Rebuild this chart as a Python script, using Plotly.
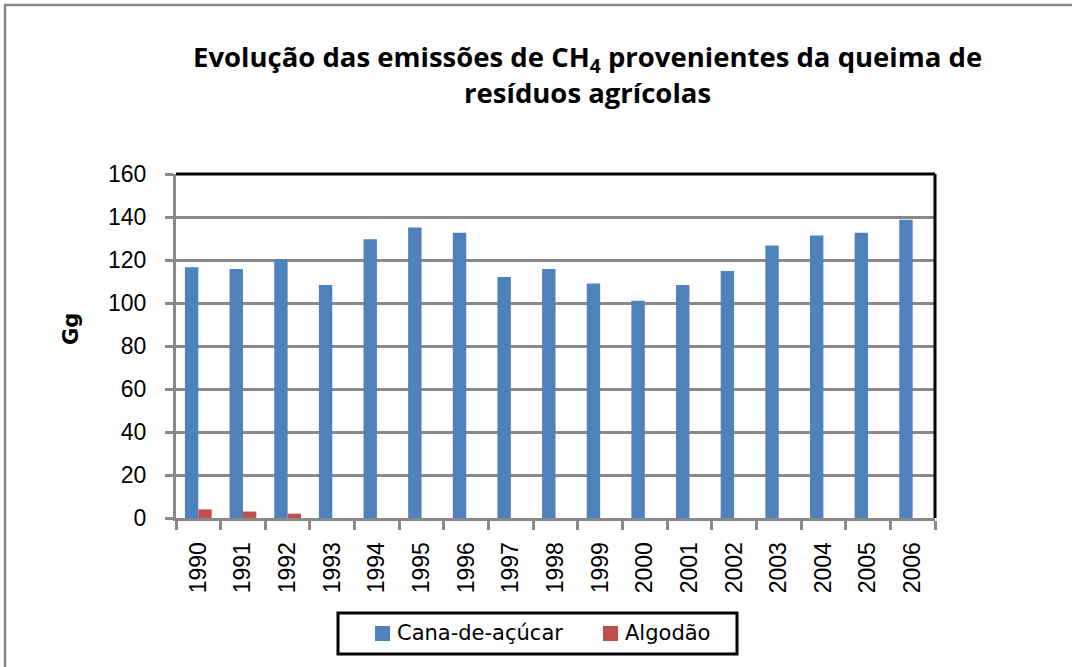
import plotly.graph_objects as go

years = ["1990", "1991", "1992", "1993", "1994", "1995", "1996", "1997", "1998",
         "1999", "2000", "2001", "2002", "2003", "2004", "2005", "2006"]
cana = [116.6, 115.8, 120.3, 108.4, 129.6, 135.1, 132.7, 112.1, 115.8,
        109.1, 101.0, 108.4, 114.9, 126.8, 131.4, 132.7, 138.7]
algodao = [4.0, 3.0, 2.0, 0, 0, 0, 0, 0, 0, 0, 0, 0, 0, 0, 0, 0, 0]
y_ticks = [0, 20, 40, 60, 80, 100, 120, 140, 160]
series_names = ["Cana-de-açúcar", "Algodão"]
series_colors = ["#4F81BD", "#C0504D"]

W, H = 1072, 667
L, R, T, B = 176, 137, 174, 149
pw, ph = W - L - R, H - T - B

def px(x):
    return (x - L) / pw

def py(y):
    return (H - B - y) / ph

fig = go.Figure()
for name, vals, col in zip(series_names, [cana, algodao], series_colors):
    fig.add_trace(go.Bar(x=years, y=vals, name=name,
                         marker=dict(color=col, line=dict(width=0))))

grid = "#898989"
fig.update_layout(
    width=W, height=H,
    margin=dict(l=L, r=R, t=T, b=B, autoexpand=False),
    paper_bgcolor="white", plot_bgcolor="white",
    barmode="group", bargap=0.4, bargroupgap=0,
    font=dict(family="Liberation Sans", color="black"),
    xaxis=dict(
        type="category", tickangle=-90, tickson="boundaries",
        ticks="outside", ticklen=9, tickwidth=3, tickcolor=grid,
        showline=True, linecolor=grid, linewidth=3,
        tickfont=dict(family="Liberation Sans", size=23, color="black"),
        ticklabelstandoff=12, showgrid=False, zeroline=False,
    ),
    yaxis=dict(
        range=[0, 160], tickvals=y_ticks, ticktext=[str(v) for v in y_ticks],
        ticks="outside", ticklen=8, tickwidth=3, tickcolor=grid,
        showline=True, linecolor=grid, linewidth=3,
        showgrid=True, gridcolor=grid, gridwidth=2.5, zeroline=False,
        tickfont=dict(family="Liberation Sans", size=23, color="black"),
        ticklabelstandoff=14,
    ),
    showlegend=False,
)

# black top and right border of plot area
fig.add_shape(type="line", xref="paper", yref="paper", x0=0, x1=1, y0=1, y1=1,
              line=dict(color="black", width=3))
fig.add_shape(type="line", xref="paper", yref="paper", x0=1, x1=1, y0=0, y1=1,
              line=dict(color="black", width=3))
# outer chart frame
fig.add_shape(type="rect", xref="paper", yref="paper",
              x0=px(5), x1=px(1085), y0=py(685), y1=py(5),
              line=dict(color="#8A8A8A", width=2.5), layer="below")

# legend (box, swatches, labels)
fig.add_shape(type="rect", xref="paper", yref="paper",
              x0=px(338), x1=px(737), y0=py(654), y1=py(613),
              line=dict(color="black", width=3), fillcolor="white")
sw_x = [375, 603]
for name, col, sx in zip(series_names, series_colors, sw_x):
    fig.add_shape(type="rect", xref="paper", yref="paper",
                  x0=px(sx), x1=px(sx + 15), y0=py(641), y1=py(626),
                  line=dict(width=0), fillcolor=col)
    fig.add_annotation(text=name, xref="paper", yref="paper",
                       x=px(sx + 20), y=py(633), xanchor="left", yanchor="middle",
                       showarrow=False,
                       font=dict(family="DejaVu Sans", size=21, color="black"))

fig.add_annotation(
    text="Evolução das emissões de CH<sub>4</sub> provenientes da queima de<br>resíduos agrícolas",
    xref="paper", yref="paper", x=px(587), y=py(36), xanchor="center", yanchor="top",
    showarrow=False, font=dict(family="Open Sans", size=27.5, color="black", weight="bold"),
    align="center",
)
fig.add_annotation(
    text="<b>Gg</b>", xref="paper", yref="paper", x=px(71), y=py(329),
    xanchor="center", yanchor="middle", textangle=-90, showarrow=False,
    font=dict(family="DejaVu Sans", size=21, color="black"),
)

fig.write_html("out.html", config={"displayModeBar": False},
               post_script="document.body.style.margin='0';")
